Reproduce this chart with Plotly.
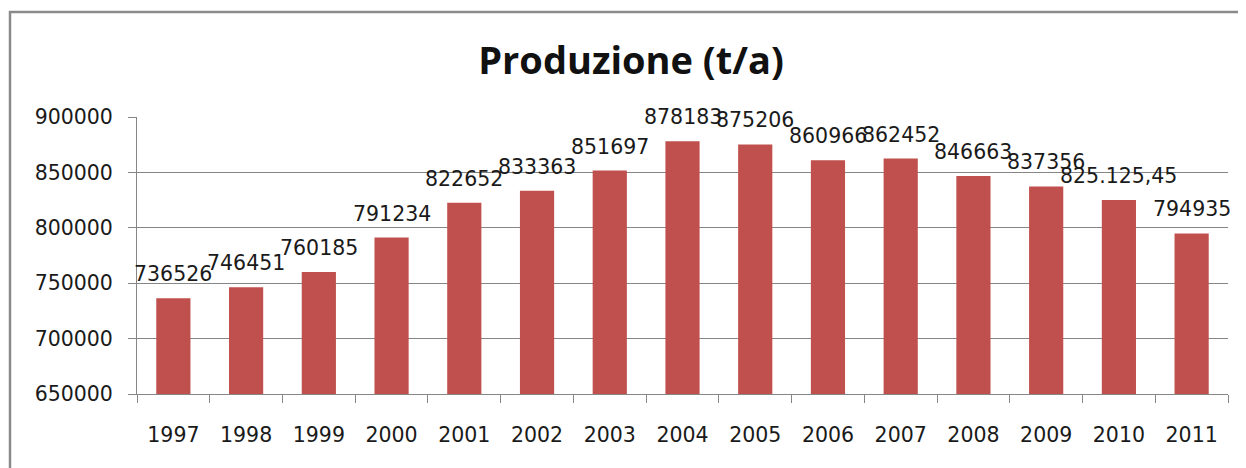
import plotly.graph_objects as go

years = ["1997", "1998", "1999", "2000", "2001", "2002", "2003", "2004",
         "2005", "2006", "2007", "2008", "2009", "2010", "2011"]
production = [736526, 746451, 760185, 791234, 822652, 833363, 851697, 878183,
              875206, 860966, 862452, 846663, 837356, 825125.45, 794935]
value_labels = ["736526", "746451", "760185", "791234", "822652", "833363", "851697",
                "878183", "875206", "860966", "862452", "846663", "837356",
                "825.125,45", "794935"]
y_ticks = [650000, 700000, 750000, 800000, 850000, 900000]

# page body has an 8px margin: figure sized to fill the rest of the window
OFF = 8
W, H = 1246 - OFF, 468 - OFF
L, R, T, B = 137 - OFF, 18, 117 - OFF, 74
pw, ph = W - L - R, H - T - B

grid = "#868686"
font_fam = "DejaVu Sans"
fs = 20.5

fig = go.Figure()
fig.add_trace(go.Bar(
    x=years, y=production, width=0.47,
    marker=dict(color="#C0504D", line=dict(width=0)),
    hoverinfo="skip",
))

# category axis: annotations are positioned by category serial number
for i, (yv, lab) in enumerate(zip(production, value_labels)):
    fig.add_annotation(
        x=i, y=yv, text=lab, showarrow=False, yanchor="bottom", xanchor="center",
        yshift=10, font=dict(family=font_fam, size=fs, color="#1a1a1a"),
    )

# outer chart border (page coords: left 10, top 12)
fig.add_shape(type="rect", xref="paper", yref="paper",
              x0=(10 - OFF - L) / pw, x1=(W + 20 - L) / pw,
              y0=(T + ph - (H + 20)) / ph, y1=(T + ph - (12 - OFF)) / ph,
              line=dict(color="#8a8a8a", width=2.5), fillcolor="rgba(0,0,0,0)",
              layer="below")

fig.update_layout(
    width=W, height=H,
    margin=dict(l=L, r=R, t=T, b=B, pad=0),
    paper_bgcolor="white", plot_bgcolor="white",
    showlegend=False,
    title=dict(text="<b>Produzione (t/a)</b>", x=(631 - OFF) / W, xref="container",
               xanchor="center", y=1 - (61 - OFF) / H, yref="container", yanchor="middle",
               font=dict(family="Open Sans", size=38, color="#111111")),
    font=dict(family=font_fam, size=fs, color="#1a1a1a"),
    bargap=0.53,
)
fig.update_xaxes(
    type="category", range=[-0.5, len(years) - 0.5], autorange=False,
    showgrid=False, showline=True, linecolor=grid, linewidth=1,
    ticks="outside", tickson="boundaries", ticklen=8, tickcolor=grid, tickwidth=1,
    tickangle=0, ticklabelstandoff=22,
    tickfont=dict(family=font_fam, size=fs, color="#1a1a1a"),
)
fig.update_yaxes(
    range=[650000, 900000], tickvals=y_ticks, ticktext=[str(v) for v in y_ticks],
    showgrid=True, gridcolor=grid, gridwidth=1, zeroline=False,
    showline=True, linecolor=grid, linewidth=1,
    ticks="outside", ticklen=8, tickcolor=grid, tickwidth=1,
    ticklabelstandoff=11, tickfont=dict(family=font_fam, size=fs, color="#1a1a1a"),
)

fig.write_html("out.html")
